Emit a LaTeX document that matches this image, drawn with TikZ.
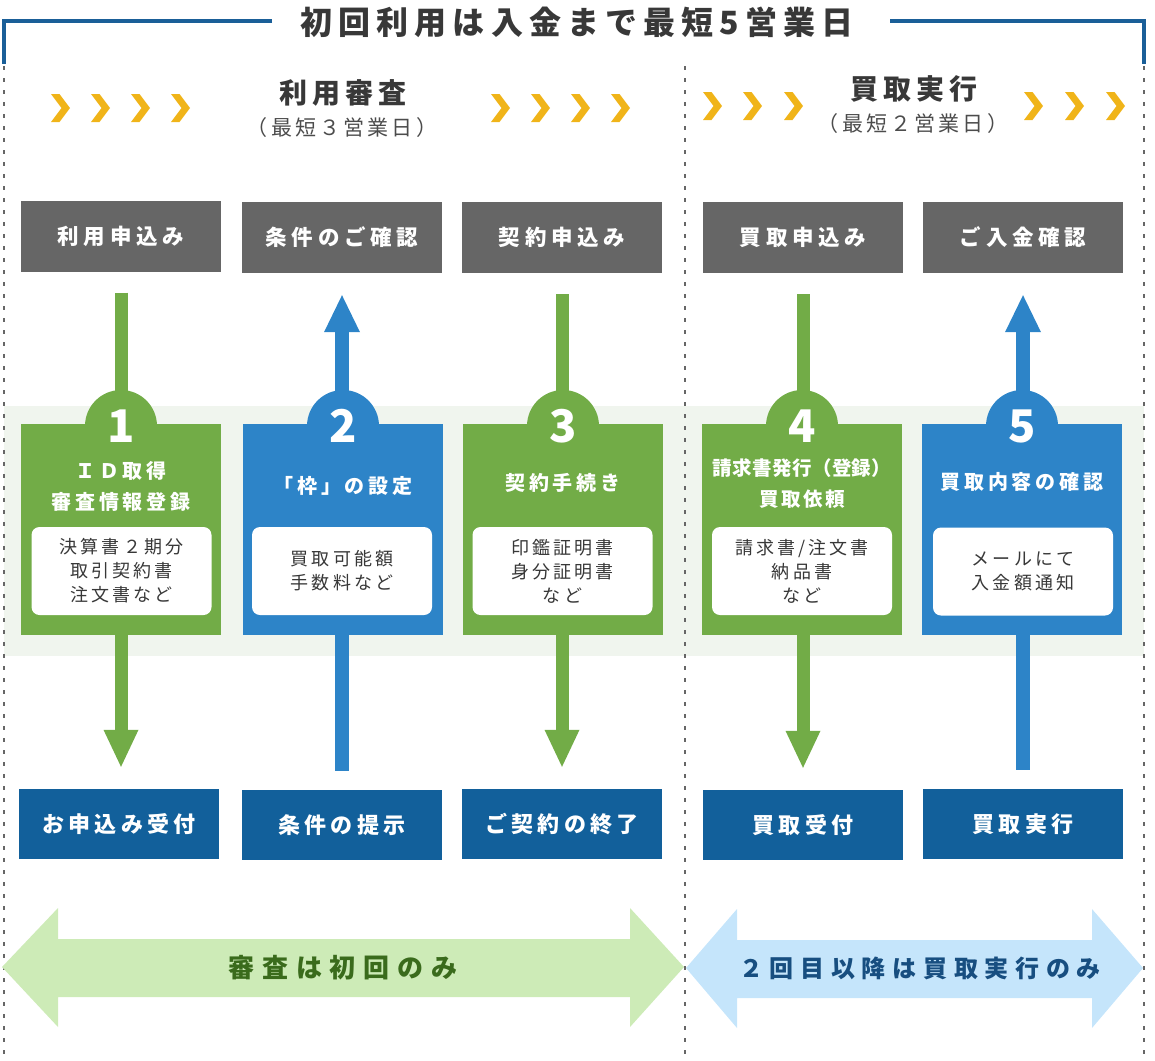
\documentclass[tikz,border=0pt]{standalone}
\usepackage{fontspec}
\newfontfamily\jp{Noto Sans CJK JP}
\usetikzlibrary{calc}
\definecolor{cgreen}{HTML}{72AC47}
\definecolor{cblue}{HTML}{2D84C8}
\definecolor{cdark}{HTML}{12609B}
\definecolor{cgray}{HTML}{666666}
\definecolor{cchev}{HTML}{F0B419}
\definecolor{cband}{HTML}{F0F5EE}
\definecolor{cframe}{HTML}{1A5F98}
\definecolor{clgreen}{HTML}{CDEBB7}
\definecolor{clblue}{HTML}{C5E5FB}
\definecolor{ctgreen}{HTML}{3A6B1C}
\definecolor{ctblue}{HTML}{174E80}
\definecolor{ctext}{HTML}{383838}
\tikzset{
  topbox/.style={fill=cgray, minimum width=200pt, minimum height=71pt, inner sep=0pt, text=white,
    font=\jp\bfseries\fontsize{21.5}{24}\selectfont\addfontfeatures{LetterSpace=22}},
  botbox/.style={fill=cdark, minimum width=200pt, minimum height=70pt, inner sep=0pt, text=white,
    font=\jp\bfseries\fontsize{22}{24}\selectfont\addfontfeatures{LetterSpace=19}},
  stepbox/.style={fill=#1, minimum width=200pt, minimum height=211pt, inner sep=0pt},
  numcircle/.style={circle, fill=#1, minimum size=72pt, inner sep=0pt, text=white,
    font=\jp\bfseries\fontsize{45}{48}\selectfont},
  steptitle/.style={text=white, align=center, inner sep=0pt,
    font=\jp\bfseries\fontsize{20}{31}\selectfont\addfontfeatures{LetterSpace=19}},
  whitebox/.style={fill=white, rounded corners=8pt, minimum width=180pt, minimum height=88pt,
    inner sep=0pt, text=ctext, align=center,
    font=\jp\fontsize{18}{24}\selectfont\addfontfeatures{LetterSpace=17}},
  shaftg/.style={draw=cgreen, line width=13pt},
  shaftb/.style={draw=cblue, line width=14pt},
  sechead/.style={text=ctext, inner sep=0pt, font=\jp\bfseries\fontsize{28}{30}\selectfont\addfontfeatures{LetterSpace=19}},
  secsub/.style={text=ctext!90, inner sep=0pt, font=\jp\fontsize{21}{24}\selectfont\addfontfeatures{LetterSpace=15}},
  dotline/.style={draw=cgray, line width=2pt, dash pattern=on 4pt off 8pt},
  frameline/.style={draw=cframe, line width=4pt},
  chev/.style={fill=cchev}
}
\begin{document}
\begin{tikzpicture}[x=1pt,y=-1pt]
\useasboundingbox (0,0) rectangle (1155,1060);
% band
\fill[cband] (4,406) rectangle (1144,656);
% dotted lines
\draw[dotline] (4,66) -- (4,1060);
\draw[dotline] (685,66) -- (685,1060);
\draw[dotline] (1144,66) -- (1144,1060);
% title and frame
\node[text=ctext, inner sep=0pt, font=\jp\bfseries\fontsize{32}{36}\selectfont\addfontfeatures{LetterSpace=19}] (title) at (577,22) {初回利用は入金まで最短5営業日};
\draw[frameline] (272,21) -- (4,21) -- (4,64);
\draw[frameline] (890,21) -- (1144,21) -- (1144,64);
% section headers
\node[sechead] (sec1) at (343,93) {利用審査};
\node[secsub] (sub1) at (342,128) {（最短３営業日）};
\node[sechead] (sec2) at (914,89) {買取実行};
\node[secsub] (sub2) at (913,124) {（最短２営業日）};
% chevrons
\foreach \x in {51,91,131,171,491,531,571,611}
  \fill[chev] (\x,94) -- ++(8.5,0) -- ++(10.5,14) -- ++(-10.5,14) -- ++(-8.5,0) -- ++(10.5,-14) -- cycle;
\foreach \x in {703,743,784,1024,1065,1106}
  \fill[chev] (\x,92) -- ++(8.5,0) -- ++(10.5,14) -- ++(-10.5,14) -- ++(-8.5,0) -- ++(10.5,-14) -- cycle;
% top boxes
\node[topbox] (t1) at (121,236) {利用申込み};
\node[topbox] (t2) at (342,237.5) {条件のご確認};
\node[topbox] (t3) at (562,237.5) {契約申込み};
\node[topbox] (t4) at (803,237.5) {買取申込み};
\node[topbox] (t5) at (1023,237.5) {ご入金確認};
% bottom boxes
\node[botbox] (b1) at (119,824) {お申込み受付};
\node[botbox] (b2) at (342,825) {条件の提示};
\node[botbox] (b3) at (562,824) {ご契約の終了};
\node[botbox] (b4) at (803,825) {買取受付};
\node[botbox] (b5) at (1023,824) {買取実行};
% down arrows (green)
\foreach \i in {1,3,4} {
  \draw[shaftg] ($(t\i.south)+(0,21)$) -- ($(t\i.south |- b\i.north)+(0,-58)$);
  \fill[cgreen] ($(t\i.south |- b\i.north)+(0,-22)$) -- ++(-17.5,-37) -- ++(35,0) -- cycle;
}
% up arrows (blue)
\foreach \i in {2,5} {
  \draw[shaftb] ($(t\i.south |- b\i.north)+(0,-19)$) -- ($(t\i.south)+(0,58)$);
  \fill[cblue] ($(t\i.south)+(0,22)$) -- ++(-18,37) -- ++(36,0) -- cycle;
}
% step boxes
\node[stepbox=cgreen] (s1) at (121,529.5) {};
\node[stepbox=cblue]  (s2) at (343,529.5) {};
\node[stepbox=cgreen] (s3) at (563,529.5) {};
\node[stepbox=cgreen] (s4) at (802,529.5) {};
\node[stepbox=cblue]  (s5) at (1022,529.5) {};
\node[numcircle=cgreen] (c1) at (121,426) {1};
\node[numcircle=cblue]  (c2) at (343,426) {2};
\node[numcircle=cgreen] (c3) at (563,426) {3};
\node[numcircle=cgreen] (c4) at (802,426) {4};
\node[numcircle=cblue]  (c5) at (1022,426) {5};
\node[steptitle] (h1) at (121,486.5) {ＩＤ取得\\審査情報登録};
\node[steptitle] (h2) at (343,486) {「枠」の設定};
\node[steptitle] (h3) at (563,483) {契約手続き};
\node[steptitle, font=\jp\bfseries\fontsize{19.5}{31}\selectfont\addfontfeatures{LetterSpace=2}] (h4) at (802,484) {請求書発行（登録）\\\addfontfeatures{LetterSpace=12}買取依頼};
\node[steptitle] (h5) at (1022,482) {買取内容の確認};
\node[whitebox] (w1) at (121.5,571) {決算書２期分\\取引契約書\\注文書など};
\node[whitebox] (w2) at (342,571) {買取可能額\\手数料など};
\node[whitebox] (w3) at (562.5,571) {印鑑証明書\\身分証明書\\など};
\node[whitebox] (w4) at (802,571) {請求書/注文書\\納品書\\など};
\node[whitebox] (w5) at (1023,571.5) {メールにて\\入金額通知};
% bottom double arrows
\fill[clgreen] (2,967) -- (58,908) -- (58,939) -- (630,939) -- (630,908) -- (684,967) -- (630,1027) -- (630,997) -- (58,997) -- (58,1027) -- cycle;
\fill[clblue] (686,968) -- (737,909) -- (737,940) -- (1092,940) -- (1092,909) -- (1143,968) -- (1092,1028) -- (1092,998) -- (737,998) -- (737,1028) -- cycle;
\node[text=ctgreen, inner sep=0pt, font=\jp\bfseries\fontsize{26}{28}\selectfont\addfontfeatures{LetterSpace=30}] (ag) at (343,968) {審査は初回のみ};
\node[text=ctblue, inner sep=0pt, font=\jp\bfseries\fontsize{24}{28}\selectfont\addfontfeatures{LetterSpace=28}] (ab) at (920,968) {２回目以降は買取実行のみ};
\end{tikzpicture}
\end{document}
